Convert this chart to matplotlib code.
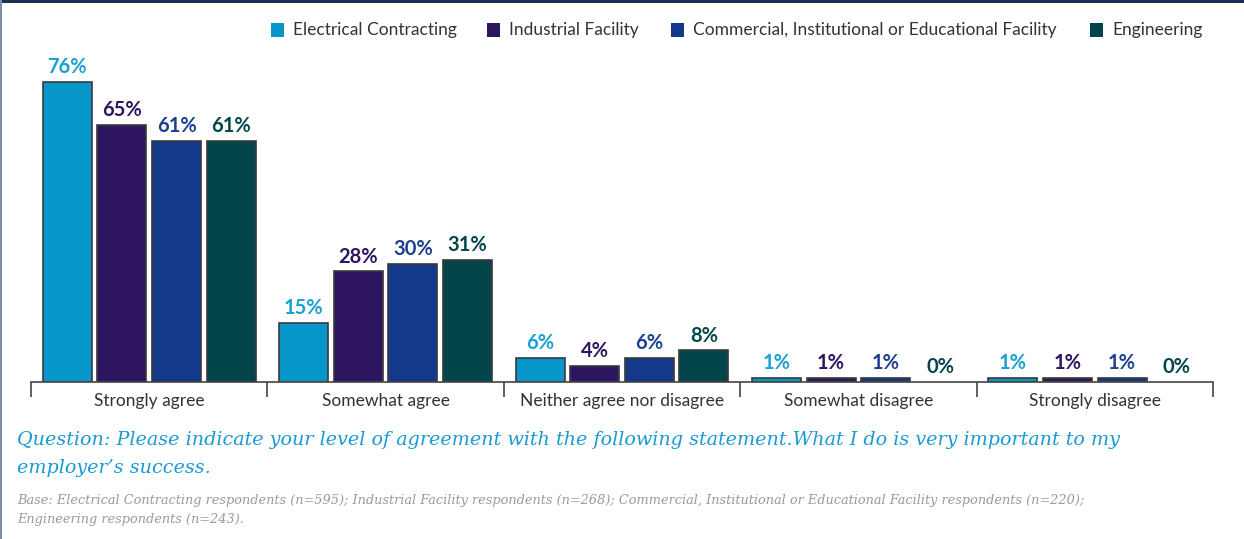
import matplotlib
matplotlib.use("Agg")
import matplotlib.pyplot as plt
from matplotlib.patches import Rectangle
import numpy as np

categories = ["Strongly agree", "Somewhat agree", "Neither agree nor disagree",
              "Somewhat disagree", "Strongly disagree"]
series_names = ["Electrical Contracting", "Industrial Facility",
                "Commercial, Institutional or Educational Facility", "Engineering"]
electrical = [76, 15, 6, 1, 1]
industrial = [65, 28, 4, 1, 1]
commercial = [61, 30, 6, 1, 1]
engineering = [61, 31, 8, 0, 0]

bar_colors = ["#0796c9", "#2e1560", "#14398a", "#02464c"]
label_colors = ["#1aa0d4", "#2e1560", "#1c3f8f", "#02464c"]

question = ("Question: Please indicate your level of agreement with the following statement.What I do is very important to my\n"
            "employer\u2019s success.")
base_note = ("Base: Electrical Contracting respondents (n=595); Industrial Facility respondents (n=268); "
             "Commercial, Institutional or Educational Facility respondents (n=220);\n"
             "Engineering respondents (n=243).")

W, H = 1244, 539
fig = plt.figure(figsize=(W / 100, H / 100), dpi=100)
fig.patch.set_facecolor("white")

# axes placed in pixel terms
ax_left, ax_right = 31, 1213
ax_bottom, ax_top = 382, 66
ax = fig.add_axes([ax_left / W, 1 - ax_bottom / H, (ax_right - ax_left) / W, (ax_bottom - ax_top) / H])

x = np.arange(len(categories))
pitch = 0.231
width = 0.207
all_series = [electrical, industrial, commercial, engineering]
for i, vals in enumerate(all_series):
    offs = (i - 1.5) * pitch
    for xi, v in zip(x, vals):
        if v > 0:
            ax.bar(xi + offs, v, width=width, color=bar_colors[i],
                   edgecolor="#3a3a3a", linewidth=1.2, zorder=2)
        ax.annotate(f"{v}%", (xi + offs, v), xytext=(0, 3.5), textcoords="offset points",
                    ha="center", va="bottom", fontsize=14.5, fontweight="bold",
                    color=label_colors[i], family="Lato")

ax.set_xlim(-0.5, 4.5)
ax.set_ylim(0, 80)
for s in ["top", "right", "left"]:
    ax.spines[s].set_visible(False)
ax.spines["bottom"].set_color("#444444")
ax.spines["bottom"].set_linewidth(1.2)
ax.set_yticks([])
ax.set_xticks(x)
ax.set_xticklabels(categories, fontsize=12.5, color="#333333", family="Lato")
ax.tick_params(axis="x", which="major", length=0, pad=8)
ax.set_xticks(np.arange(-0.5, 5.0, 1.0), minor=True)
ax.tick_params(axis="x", which="minor", length=11, width=1.2, color="#444444", direction="out")

# legend row
legend_items = [(271, series_names[0]), (487, series_names[1]), (671, series_names[2]), (1090, series_names[3])]
for (px, name), c in zip(legend_items, bar_colors):
    fig.patches.append(Rectangle((px / W, 1 - 37 / H), 13 / W, 14 / H, transform=fig.transFigure,
                                 facecolor=c, edgecolor="none"))
    fig.text((px + 22) / W, 1 - 30 / H, name, fontsize=12.5, color="#333333",
             va="center", ha="left", family="Lato")

# question and base text
fig.text(17 / W, 1 - 431 / H, question, fontsize=13.8, color="#1a9ad6", style="italic",
         family="DejaVu Serif", va="top", ha="left", linespacing=1.7)
fig.text(17 / W, 1 - 494 / H, base_note, fontsize=9.3, color="#9a9a9a", style="italic",
         family="DejaVu Serif", va="top", ha="left", linespacing=1.65)

# frame accents
fig.patches.append(Rectangle((0, 1 - 3 / H), 1, 3 / H, transform=fig.transFigure,
                             facecolor="#1b2f55", edgecolor="none"))
fig.patches.append(Rectangle((0, 0), 2 / W, 1, transform=fig.transFigure,
                             facecolor="#7d8ca3", edgecolor="none"))

fig.savefig("out.png", dpi=100)
